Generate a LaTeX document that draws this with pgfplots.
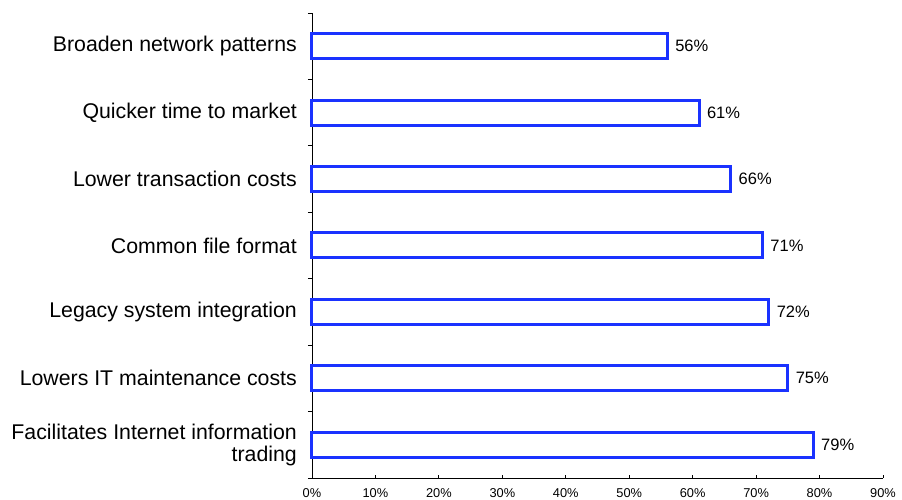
\documentclass[border=0pt]{standalone}
\usepackage{fontspec}
\setmainfont{Liberation Sans}
\usepackage{pgfplots}
\pgfplotsset{compat=1.18}
\definecolor{barblue}{RGB}{26,50,255}
\begin{document}
\begin{tikzpicture}
\path[use as bounding box] (-312pt,-22pt) rectangle (590pt,478pt);
\begin{axis}[
  at={(0pt,0pt)}, anchor=south west,
  scale only axis, width=571pt, height=465pt,
  xbar, bar width=25pt,
  xmin=0, xmax=90, ymin=-0.5, ymax=6.5,
  axis x line*=bottom, axis y line*=left,
  axis line style={black, line width=0.8pt},
  xtick={0,10,...,90},
  xticklabels={0\%,10\%,20\%,30\%,40\%,50\%,60\%,70\%,80\%,90\%},
  xtick align=inside,
  ytick align=outside,
  major tick length=3pt,
  minor tick length=4pt,
  tick style={black, line width=0.8pt},
  major y tick style={draw=none},
  ytick={0,...,6},
  minor ytick={-0.5,0.5,...,6.5},
  yticklabels={{Facilitates Internet information\\trading},Lowers IT maintenance costs,Legacy system integration,Common file format,Lower transaction costs,Quicker time to market,Broaden network patterns},
  yticklabel style={align=right, font=\fontsize{21.3}{21.5}\selectfont, inner sep=0pt, xshift=-12pt},
  xticklabel style={font=\fontsize{12.8}{14}\selectfont, inner sep=0pt, yshift=-10pt},
  /pgf/number format/assume math mode=true,
  nodes near coords={\pgfmathprintnumber{\pgfplotspointmeta}\%},
  point meta=x,
  nodes near coords style={font=\fontsize{16.5}{18}\selectfont, anchor=west, inner sep=0pt, xshift=6.5pt, black},
  clip=false,
]
\addplot[draw=barblue, fill=white, line width=3pt] coordinates {(79,0) (75,1) (72,2) (71,3) (66,4) (61,5) (56,6)};
\end{axis}
\end{tikzpicture}
\end{document}
